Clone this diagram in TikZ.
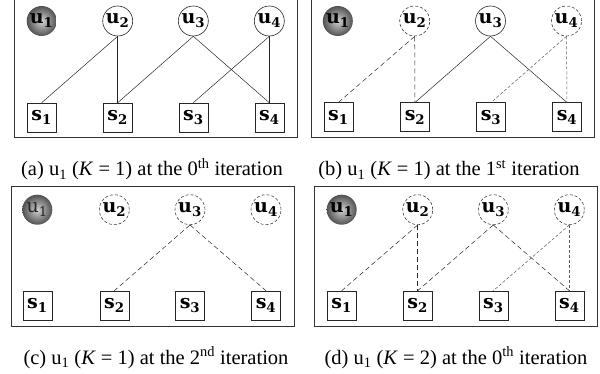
\documentclass[tikz,border=0pt]{standalone}
\usepackage[no-math]{fontspec}
\setmainfont{Liberation Serif}
\newfontfamily\lblfont{DejaVu Serif}
\usetikzlibrary{shadings}
\tikzset{
  lbl/.style={font=\lblfont\fontsize{19}{21}\selectfont},
  ucirc/.style={lbl, circle, draw=black!85, line width=0.6pt, minimum size=30pt, inner sep=0pt},
  ucircd/.style={ucirc, draw=black!75, dash pattern=on 3pt off 2pt},
  uball/.style={lbl, circle, minimum size=30pt, inner sep=0pt, shading=radial, inner color=black!18, outer color=black!68},
  sbox/.style={lbl, rectangle, draw=black!85, line width=0.6pt, minimum size=29pt, inner sep=0pt},
  panel/.style={draw=black!80, line width=0.8pt},
  ln/.style={draw=black!85, line width=0.5pt},
  lnd/.style={ln, dash pattern=on 5pt off 3pt},
  lnf/.style={ln, draw=black!65, dash pattern=on 3pt off 2pt},
  capt/.style={font=\fontsize{20.5}{22}\selectfont, anchor=base}
}
\newcommand{\bu}[1]{\textbf{u\textsubscript{#1}}}
\newcommand{\bs}[1]{\textbf{s\textsubscript{#1}}}
\begin{document}
\begin{tikzpicture}[x=1pt,y=-1pt]
\useasboundingbox (0,0) rectangle (600,374);
% ---------------- panel (a)
\draw[panel] (14,-2) rectangle (297.5,137.5);
\node[uball]  (a1) at (41.7,21) {\bu{1}};
\node[ucirc]  (a2) at (117.7,21) {\bu{2}};
\node[ucirc]  (a3) at (193.3,21) {\bu{3}};
\node[ucirc]  (a4) at (269.3,21) {\bu{4}};
\node[sbox] (as1) at (41.7,117.5) {\bs{1}};
\node[sbox] (as2) at (117.7,117.5) {\bs{2}};
\node[sbox] (as3) at (193.3,117.5) {\bs{3}};
\node[sbox] (as4) at (269.3,117.5) {\bs{4}};
\draw[ln] (a2.south) -- (as1.north);
\draw[ln] (a2.south) -- (as2.north);
\draw[ln] (a3.south) -- (as2.north);
\draw[ln] (a3.south) -- (as4.north);
\draw[ln] (a4.south) -- (as3.north);
\draw[ln] (a4.south) -- (as4.north);
\node[capt] (capa) at (152,176) {(a) u\textsubscript{1} (\textit{K} = 1) at the 0\textsuperscript{th} iteration};
% ---------------- panel (b)
\draw[panel] (311.7,-2) rectangle (594.5,137.5);
\node[uball]  (b1) at (337.8,21) {\bu{1}};
\node[ucircd] (b2) at (414.7,21) {\bu{2}};
\node[ucirc]  (b3) at (490.5,21) {\bu{3}};
\node[ucircd] (b4) at (566.5,21) {\bu{4}};
\node[sbox] (bs1) at (338.3,117.3) {\bs{1}};
\node[sbox] (bs2) at (415,117.3) {\bs{2}};
\node[sbox] (bs3) at (491,117.3) {\bs{3}};
\node[sbox] (bs4) at (567,117.3) {\bs{4}};
\draw[lnd] (b2.south) -- (bs1.north);
\draw[lnd] (b2.south) -- (bs2.north);
\draw[ln]  (b3.south) -- (bs2.north);
\draw[ln]  (b3.south) -- (bs4.north);
\draw[lnf] (b4.south) -- (bs3.north);
\draw[lnf] (b4.south) -- (bs4.north);
\node[capt] (capb) at (449,176) {(b) u\textsubscript{1} (\textit{K} = 1) at the 1\textsuperscript{st} iteration};
% ---------------- panel (c)
\draw[panel] (11.7,186) rectangle (294,326.5);
\node[uball]  (c1) at (37.3,209.7) {\color{black!85}u\textsubscript{1}};
\node[ucircd] (c2) at (114.3,209.7) {\bu{2}};
\node[ucircd] (c3) at (190,209.7) {\bu{3}};
\node[ucircd] (c4) at (266,209.7) {\bu{4}};
\node[sbox] (cs1) at (37.3,305.5) {\bs{1}};
\node[sbox] (cs2) at (114.3,305.5) {\bs{2}};
\node[sbox] (cs3) at (190,305.5) {\bs{3}};
\node[sbox] (cs4) at (266,305.5) {\bs{4}};
\draw[lnd] (c3.south) -- (cs2.north);
\draw[lnd] (c3.south) -- (cs4.north);
\node[capt] (capc) at (156,364) {(c) u\textsubscript{1} (\textit{K} = 1) at the 2\textsuperscript{nd} iteration};
% ---------------- panel (d)
\draw[panel] (314,186) rectangle (597.7,326.5);
\node[uball]  (d1) at (341.7,209.7) {\bu{1}};
\node[ucircd] (d2) at (417.7,209.7) {\bu{2}};
\node[ucircd] (d3) at (493.3,209.7) {\bu{3}};
\node[ucircd] (d4) at (569.3,209.7) {\bu{4}};
\node[sbox] (ds1) at (341.7,305.5) {\bs{1}};
\node[sbox] (ds2) at (417.7,305.5) {\bs{2}};
\node[sbox] (ds3) at (493.3,305.5) {\bs{3}};
\node[sbox] (ds4) at (569.3,305.5) {\bs{4}};
\draw[lnd] (d2.south) -- (ds1.north);
\draw[lnd] (d2.south) -- (ds2.north);
\draw[lnd] (d3.south) -- (ds2.north);
\draw[lnd] (d3.south) -- (ds4.north);
\draw[lnf] (d4.south) -- (ds3.north);
\draw[lnf] (d4.south) -- (ds4.north);
\node[capt] (capd) at (456,364) {(d) u\textsubscript{1} (\textit{K} = 2) at the 0\textsuperscript{th} iteration};
\end{tikzpicture}
\end{document}
